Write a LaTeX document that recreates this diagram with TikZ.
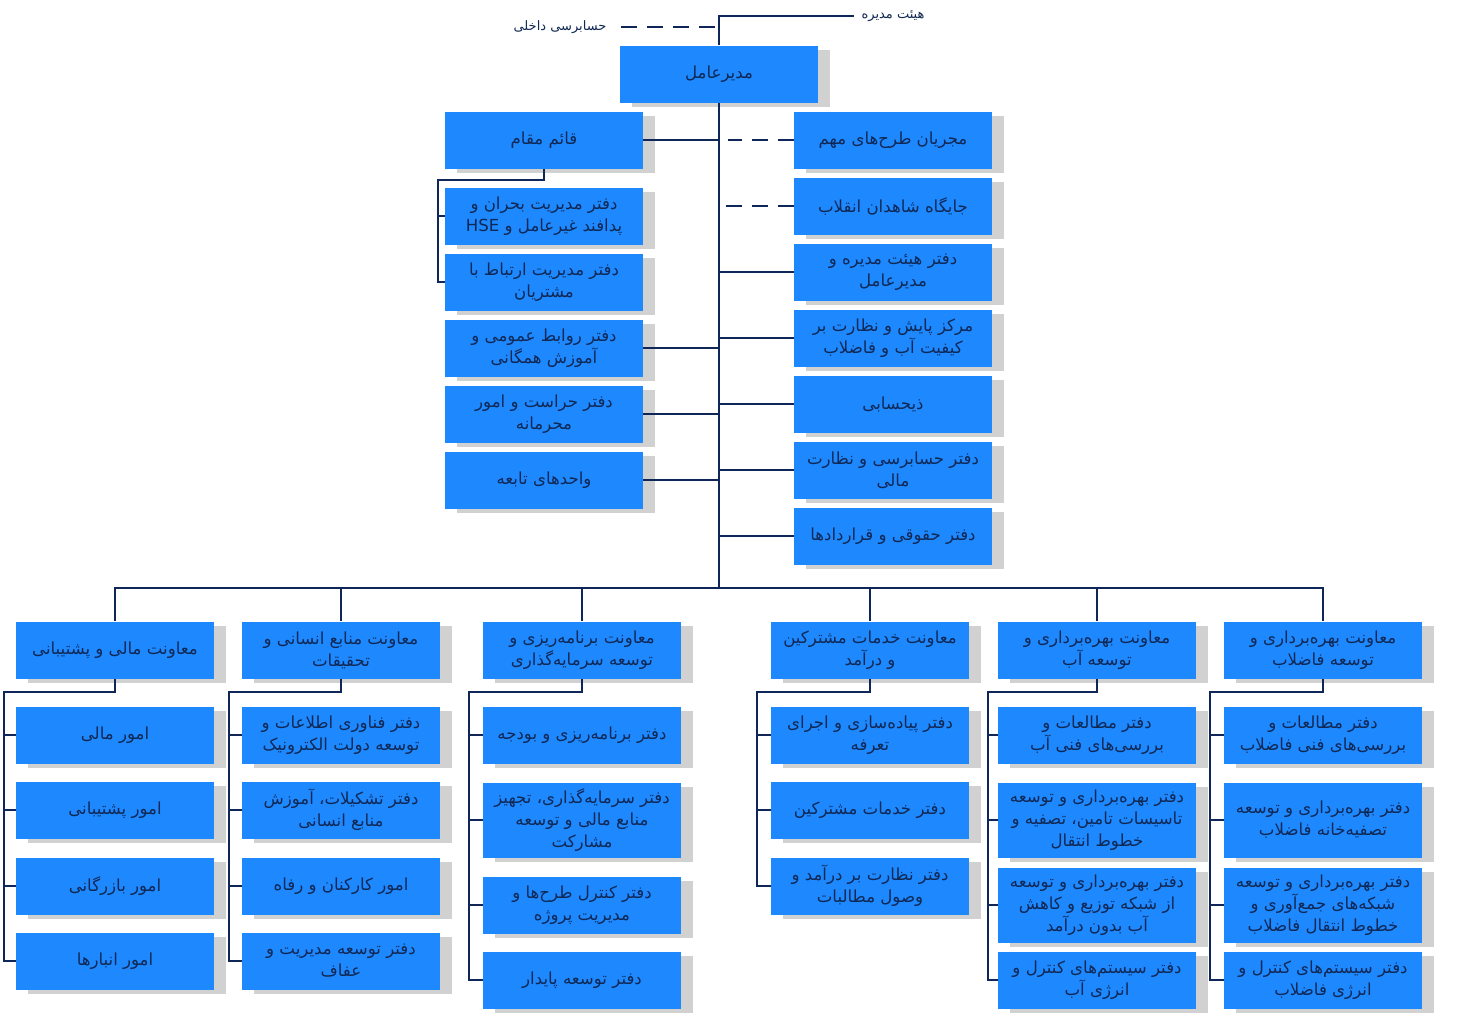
\documentclass[tikz,border=0pt]{standalone}
\usepackage{fontspec}
\newfontfamily\arabicfont[Script=Arabic]{DejaVu Sans}
\TeXXeTstate=1
\usepackage{tikz}
\usetikzlibrary{positioning,shadows}
\definecolor{boxblue}{RGB}{30,136,255}
\definecolor{txtnavy}{RGB}{16,40,84}
\definecolor{linenavy}{RGB}{14,38,88}
\newcommand{\fa}[1]{\beginR #1\endR}

\begin{document}
\begin{tikzpicture}[x=0.5pt,y=-0.5pt]
        \tikzstyle{every node}=[font=\arabicfont\fontsize{8.3}{11}\selectfont]
        \tikzstyle{unit}=[rectangle,fill=boxblue,text=txtnavy,minimum width=99pt,minimum height=28.5pt,inner sep=1pt,align=center,
            drop shadow={shadow xshift=6pt,shadow yshift=-2pt,fill=black!40,opacity=.45}]
        \tikzstyle{tall}=[unit,minimum height=37.5pt]
        \tikzstyle{link}=[draw=linenavy,line width=1.2pt]
        \tikzstyle{staff}=[link,dash pattern=on 8pt off 5pt]
        \useasboundingbox (0,0) rectangle (1458,1017);

        %%% Top
        \node[unit] (ceo) at (719,74) {\fa{مدیرعامل}};
        \node[text=txtnavy,font=\arabicfont\fontsize{6.5}{8}\selectfont] (board) at (893,16) {\fa{هیئت مدیره}};
        \node[text=txtnavy,font=\arabicfont\fontsize{6.5}{8}\selectfont] (audit) at (560,27) {\fa{حسابرسی داخلی}};
        \coordinate (trunk) at (719,588);
        \draw[link] (ceo.north) |- (board.west);
        \draw[staff] (ceo.north |- audit) ++(-4,0) -- (audit.east);
        \draw[link] (ceo.south) -- (trunk);

        %%% Staff left
        \node[unit] (deputy) at (544,140) {\fa{قائم مقام}};
        \node[unit] (crisis) at (544,216) {\fa{دفتر مدیریت بحران و}\\\fa{پدافند غیرعامل و HSE}};
        \node[unit] (client) at (544,282) {\fa{دفتر مدیریت ارتباط با}\\\fa{مشتریان}};
        \node[unit] (pr) at (544,348) {\fa{دفتر روابط عمومی و}\\\fa{آموزش همگانی}};
        \node[unit] (guard) at (544,414) {\fa{دفتر حراست و امور}\\\fa{محرمانه}};
        \node[unit] (subs) at (544,480) {\fa{واحدهای تابعه}};
        \coordinate (deprail) at (438,180);
        \draw[link] (deputy.east) -- (deputy.east -| ceo);
        \draw[link] (deputy.south) |- (deprail) |- (client.west);
        \draw[link] (deprail |- crisis) -- (crisis.west);
        \draw[link] (pr.east) -- (pr.east -| ceo);
        \draw[link] (guard.east) -- (guard.east -| ceo);
        \draw[link] (subs.east) -- (subs.east -| ceo);

        %%% Staff right
        \node[unit] (major) at (893,140) {\fa{مجریان طرح‌های مهم}};
        \node[unit] (martyr) at (893,206) {\fa{جایگاه شاهدان انقلاب}};
        \node[unit] (boardoff) at (893,272) {\fa{دفتر هیئت مدیره و}\\\fa{مدیرعامل}};
        \node[unit] (quality) at (893,338) {\fa{مرکز پایش و نظارت بر}\\\fa{کیفیت آب و فاضلاب}};
        \node[unit] (treas) at (893,404) {\fa{ذیحسابی}};
        \node[unit] (finaud) at (893,470) {\fa{دفتر حسابرسی و نظارت}\\\fa{مالی}};
        \node[unit] (legal) at (893,536) {\fa{دفتر حقوقی و قراردادها}};
        \draw[staff] (major.west) -- ++(-66,0);
        \draw[staff] (martyr.west) -- ++(-72,0);
        \draw[link] (boardoff.west) -- (boardoff.west -| ceo);
        \draw[link] (quality.west) -- (quality.west -| ceo);
        \draw[link] (treas.west) -- (treas.west -| ceo);
        \draw[link] (finaud.west) -- (finaud.west -| ceo);
        \draw[link] (legal.west) -- (legal.west -| ceo);

        %%% Deputies
        \node[unit] (vpfin) at (115,650) {\fa{معاونت مالی و پشتیبانی}};
        \node[unit] (vphr) at (341,650) {\fa{معاونت منابع انسانی و}\\\fa{تحقیقات}};
        \node[unit] (vpplan) at (582,650) {\fa{معاونت برنامه‌ریزی و}\\\fa{توسعه سرمایه‌گذاری}};
        \node[unit] (vpcust) at (870,650) {\fa{معاونت خدمات مشترکین}\\\fa{و درآمد}};
        \node[unit] (vpwater) at (1097,650) {\fa{معاونت بهره‌برداری و}\\\fa{توسعه آب}};
        \node[unit] (vpsew) at (1323,650) {\fa{معاونت بهره‌برداری و}\\\fa{توسعه فاضلاب}};
        \draw[link] (vpfin.north) |- (trunk) -| (vpsew.north);
        \foreach \v in {vphr,vpplan,vpcust,vpwater}
            \draw[link] (\v.north) -- (\v.north |- trunk);

        %%% Finance
        \node[unit] (fin1) at (115,735) {\fa{امور مالی}};
        \node[unit] (fin2) at (115,810) {\fa{امور پشتیبانی}};
        \node[unit] (fin3) at (115,886) {\fa{امور بازرگانی}};
        \node[unit] (fin4) at (115,961) {\fa{امور انبارها}};
        %%% HR
        \node[unit] (hr1) at (341,735) {\fa{دفتر فناوری اطلاعات و}\\\fa{توسعه دولت الکترونیک}};
        \node[unit] (hr2) at (341,810) {\fa{دفتر تشکیلات، آموزش}\\\fa{منابع انسانی}};
        \node[unit] (hr3) at (341,886) {\fa{امور کارکنان و رفاه}};
        \node[unit] (hr4) at (341,961) {\fa{دفتر توسعه مدیریت و}\\\fa{عفاف}};
        %%% Planning
        \node[unit] (plan1) at (582,735) {\fa{دفتر برنامه‌ریزی و بودجه}};
        \node[tall] (plan2) at (582,820) {\fa{دفتر سرمایه‌گذاری، تجهیز}\\\fa{منابع مالی و توسعه}\\\fa{مشارکت}};
        \node[unit] (plan3) at (582,905) {\fa{دفتر کنترل طرح‌ها و}\\\fa{مدیریت پروژه}};
        \node[unit] (plan4) at (582,980) {\fa{دفتر توسعه پایدار}};
        %%% Customers
        \node[unit] (cust1) at (870,735) {\fa{دفتر پیاده‌سازی و اجرای}\\\fa{تعرفه}};
        \node[unit] (cust2) at (870,810) {\fa{دفتر خدمات مشترکین}};
        \node[unit] (cust3) at (870,886) {\fa{دفتر نظارت بر درآمد و}\\\fa{وصول مطالبات}};
        %%% Water
        \node[unit] (wat1) at (1097,735) {\fa{دفتر مطالعات و}\\\fa{بررسی‌های فنی آب}};
        \node[tall] (wat2) at (1097,820) {\fa{دفتر بهره‌برداری و توسعه}\\\fa{تاسیسات تامین، تصفیه و}\\\fa{خطوط انتقال}};
        \node[tall] (wat3) at (1097,905) {\fa{دفتر بهره‌برداری و توسعه}\\\fa{از شبکه توزیع و کاهش}\\\fa{آب بدون درآمد}};
        \node[unit] (wat4) at (1097,980) {\fa{دفتر سیستم‌های کنترل و}\\\fa{انرژی آب}};
        %%% Sewage
        \node[unit] (sew1) at (1323,735) {\fa{دفتر مطالعات و}\\\fa{بررسی‌های فنی فاضلاب}};
        \node[tall] (sew2) at (1323,820) {\fa{دفتر بهره‌برداری و توسعه}\\\fa{تصفیه‌خانه فاضلاب}};
        \node[tall] (sew3) at (1323,905) {\fa{دفتر بهره‌برداری و توسعه}\\\fa{شبکه‌های جمع‌آوری و}\\\fa{خطوط انتقال فاضلاب}};
        \node[unit] (sew4) at (1323,980) {\fa{دفتر سیستم‌های کنترل و}\\\fa{انرژی فاضلاب}};

        \coordinate (finrail) at (4,692);
        \coordinate (hrrail) at (229,692);
        \coordinate (planrail) at (469,692);
        \coordinate (custrail) at (757,692);
        \coordinate (watrail) at (988,692);
        \coordinate (sewrail) at (1210,692);
        \draw[link] (vpfin.south) |- (finrail) |- (fin4.west);
        \draw[link] (vphr.south) |- (hrrail) |- (hr4.west);
        \draw[link] (vpplan.south) |- (planrail) |- (plan4.west);
        \draw[link] (vpcust.south) |- (custrail) |- (cust3.west);
        \draw[link] (vpwater.south) |- (watrail) |- (wat4.west);
        \draw[link] (vpsew.south) |- (sewrail) |- (sew4.west);
        \foreach \r/\c in {finrail/fin1,finrail/fin2,finrail/fin3,hrrail/hr1,hrrail/hr2,hrrail/hr3,
            planrail/plan1,planrail/plan2,planrail/plan3,custrail/cust1,custrail/cust2,
            watrail/wat1,watrail/wat2,watrail/wat3,sewrail/sew1,sewrail/sew2,sewrail/sew3}
            \draw[link] (\r |- \c.west) -- (\c.west);
    \end{tikzpicture}
\end{document}
